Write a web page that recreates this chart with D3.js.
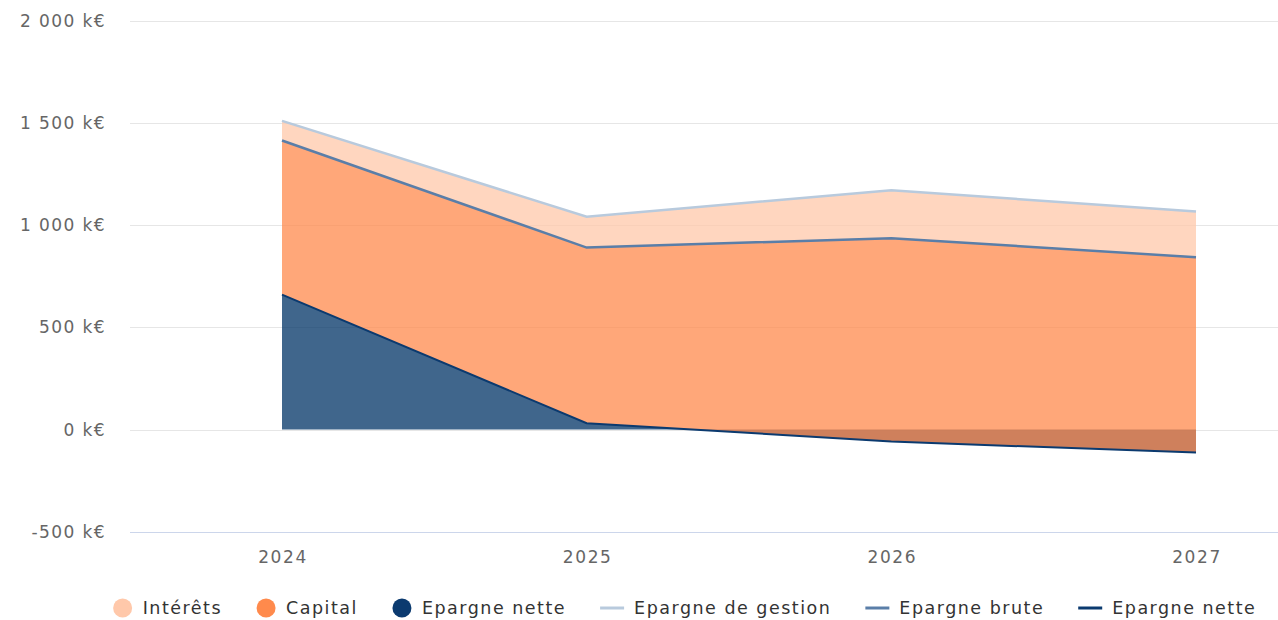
<!DOCTYPE html>
<html><head><meta charset="utf-8">
<script src="https://cdn.jsdelivr.net/npm/d3@7"></script>
<style>
html,body{margin:0;padding:0;background:#fff;}
svg{display:block;font-family:"DejaVu Sans",Verdana,sans-serif;}
</style></head>
<body><svg id="c" width="1278" height="620"></svg>
<script>
const years = [2024, 2025, 2026, 2027];
const epargneGestion = [1510, 1041, 1171, 1066];
const epargneBrute = [1414, 890, 936, 843];
const epargneNette = [660, 31, -59, -113];
const yTicks = [-500, 0, 500, 1000, 1500, 2000];
const areaSeries = ["Intérêts", "Capital", "Epargne nette"];
const lineSeries = ["Epargne de gestion", "Epargne brute", "Epargne nette"];

const svg = d3.select("#c");
const plotL = 130, plotR = 1278;
const x = d3.scalePoint().domain(years).range([282, 1196]);
const y = d3.scaleLinear().domain([-500, 2000]).range([531.7, 20.7]);

const fmt = v => (v < 0 ? "-" : "") + d3.format(",")(Math.abs(v)).replace(/,/g, " ") + " k€";

// gridlines
svg.append("g").selectAll("line").data(yTicks.filter(t => t !== -500)).join("line")
  .attr("x1", plotL).attr("x2", plotR)
  .attr("y1", d => Math.round(y(d)) + 0.5).attr("y2", d => Math.round(y(d)) + 0.5)
  .attr("stroke", "#e6e6e6").attr("stroke-width", 1);
// axis line
svg.append("line").attr("x1", plotL).attr("x2", plotR)
  .attr("y1", Math.round(y(-500)) + 0.5).attr("y2", Math.round(y(-500)) + 0.5)
  .attr("stroke", "#ccd6eb").attr("stroke-width", 1);

// y labels
svg.append("g").selectAll("text").data(yTicks).join("text")
  .attr("x", 106).attr("y", d => y(d) + 6)
  .attr("text-anchor", "end").attr("fill", "#666").attr("font-size", 17)
  .attr("letter-spacing", 1.4)
  .text(d => fmt(d));

// x labels
svg.append("g").selectAll("text").data(years).join("text")
  .attr("x", d => x(d) + 1).attr("y", 563)
  .attr("text-anchor", "middle").attr("fill", "#666").attr("font-size", 17)
  .attr("letter-spacing", 1.6)
  .text(d => d);

const idx = d3.range(years.length);
const blueArea = d3.area().x(i => x(years[i])).y0(y(0)).y1(i => y(epargneNette[i]));
const capArea = d3.area().x(i => x(years[i])).y0(i => y(epargneNette[i])).y1(i => y(epargneBrute[i]));
const intArea = d3.area().x(i => x(years[i])).y0(i => y(epargneBrute[i])).y1(i => y(epargneGestion[i]));

svg.append("path").attr("d", blueArea(idx)).attr("fill", "#003366").attr("fill-opacity", 0.75);
svg.append("path").attr("d", capArea(idx)).attr("fill", "#FF8A4C").attr("fill-opacity", 0.75);
svg.append("path").attr("d", intArea(idx)).attr("fill", "#FFC8AA").attr("fill-opacity", 0.75);

const lineGen = arr => d3.line().x(i => x(years[i])).y(i => y(arr[i]))(idx);
svg.append("path").attr("d", lineGen(epargneGestion)).attr("fill", "none").attr("stroke", "#B8CADD").attr("stroke-width", 2.5);
svg.append("path").attr("d", lineGen(epargneBrute)).attr("fill", "none").attr("stroke", "#5A7EA8").attr("stroke-width", 2.5);
svg.append("path").attr("d", lineGen(epargneNette)).attr("fill", "none").attr("stroke", "#0B3A6F").attr("stroke-width", 2);

// legend
const legendItems = [
  {name: areaSeries[0], type: "circle", color: "#FFC8AA"},
  {name: areaSeries[1], type: "circle", color: "#FF8A4C"},
  {name: areaSeries[2], type: "circle", color: "#0B3A6F"},
  {name: lineSeries[0], type: "line", color: "#B8CADD"},
  {name: lineSeries[1], type: "line", color: "#5A7EA8"},
  {name: lineSeries[2], type: "line", color: "#0B3A6F"}
];
const lg = svg.append("g");
const ly = 608;
const items = legendItems.map(d => {
  const g = lg.append("g");
  const symW = d.type === "circle" ? 20 : 24;
  if (d.type === "circle") g.append("circle").attr("cx", 10).attr("cy", ly).attr("r", 9.5).attr("fill", d.color);
  else g.append("line").attr("x1", 0).attr("x2", symW).attr("y1", ly).attr("y2", ly).attr("stroke", d.color).attr("stroke-width", 3);
  const t = g.append("text").attr("x", symW + 10).attr("y", ly + 6).attr("font-size", 17.5)
    .attr("letter-spacing", 1.5).attr("fill", "#333").text(d.name);
  const w = symW + 10 + t.node().getComputedTextLength();
  return {g, w};
});
const gap = 34;
const total = d3.sum(items, d => d.w) + gap * (items.length - 1);
let cx = 684.5 - total / 2;
items.forEach(it => { it.g.attr("transform", `translate(${cx},0)`); cx += it.w + gap; });
</script></body></html>
